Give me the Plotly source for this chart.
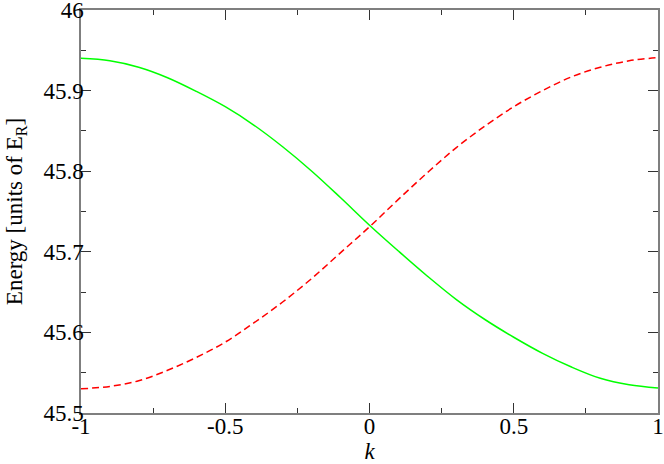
import plotly.graph_objects as go

# wave number k across the Brillouin zone
k = [-1.0, -0.9, -0.8, -0.7, -0.6, -0.5, -0.4, -0.3, -0.2, -0.1, 0.0,
     0.1, 0.2, 0.3, 0.4, 0.5, 0.6, 0.7, 0.8, 0.9, 1.0]

# band energies (units of E_R)
band_green = [45.940, 45.937, 45.929, 45.916, 45.899, 45.880, 45.857, 45.830,
              45.800, 45.767, 45.733, 45.701, 45.670, 45.641, 45.616, 45.594,
              45.574, 45.557, 45.543, 45.535, 45.531]
band_red = [45.530, 45.533, 45.540, 45.553, 45.569, 45.588, 45.612, 45.638,
            45.667, 45.699, 45.731, 45.765, 45.798, 45.829, 45.856, 45.880,
            45.900, 45.917, 45.929, 45.937, 45.941]

x_ticks = [-1, -0.5, 0, 0.5, 1]
x_labels = ['-1', '-0.5', '0', '0.5', '1']
y_ticks = [45.5, 45.6, 45.7, 45.8, 45.9, 46.0]
y_labels = ['45.5', '45.6', '45.7', '45.8', '45.9', '46']

serif = 'Times New Roman, Liberation Serif, serif'

fig = go.Figure()
fig.add_trace(go.Scatter(x=k, y=band_green, mode='lines', line_shape='spline',
                         line=dict(color='#00ff00', width=1.5)))
fig.add_trace(go.Scatter(x=k, y=band_red, mode='lines', line_shape='spline',
                         line=dict(color='#ff0000', width=1.5, dash='7px,4px')))

axis_style = dict(showline=True, linecolor='#7f7f7f', linewidth=1.5, mirror='allticks',
                  ticks='inside', ticklen=10, tickcolor='#333333', tickwidth=1,
                  showgrid=False, zeroline=False, automargin=False,
                  ticklabeloverflow='allow',
                  tickfont=dict(family=serif, size=23, color='black'))

fig.update_xaxes(range=[-1, 1], tickvals=x_ticks, ticktext=x_labels,
                 ticklabelstandoff=-8,
                 minor=dict(ticks='inside', ticklen=5, tickcolor='#333333', dtick=0.25),
                 title=dict(text='<i>k</i>', standoff=3,
                            font=dict(family=serif, size=23, color='black')),
                 **axis_style)
fig.update_yaxes(range=[45.5, 46.0], tickvals=y_ticks, ticktext=y_labels,
                 ticklabelstandoff=-9,
                 minor=dict(ticks='inside', ticklen=5, tickcolor='#333333', dtick=0.05),
                 title=dict(text='Energy [units of E<sub>R</sub>]', standoff=14,
                            font=dict(family=serif, size=23, color='black')),
                 **axis_style)

fig.update_layout(width=664, height=464, showlegend=False,
                  font=dict(family=serif, color='black'),
                  plot_bgcolor='white', paper_bgcolor='white',
                  margin=dict(l=81, r=6, t=10, b=51))

# drop the page's default body margin so the figure sits at the window corner
fig.write_html("out.html", config={'displayModeBar': False},
               post_script="document.body.style.margin = '0';")
